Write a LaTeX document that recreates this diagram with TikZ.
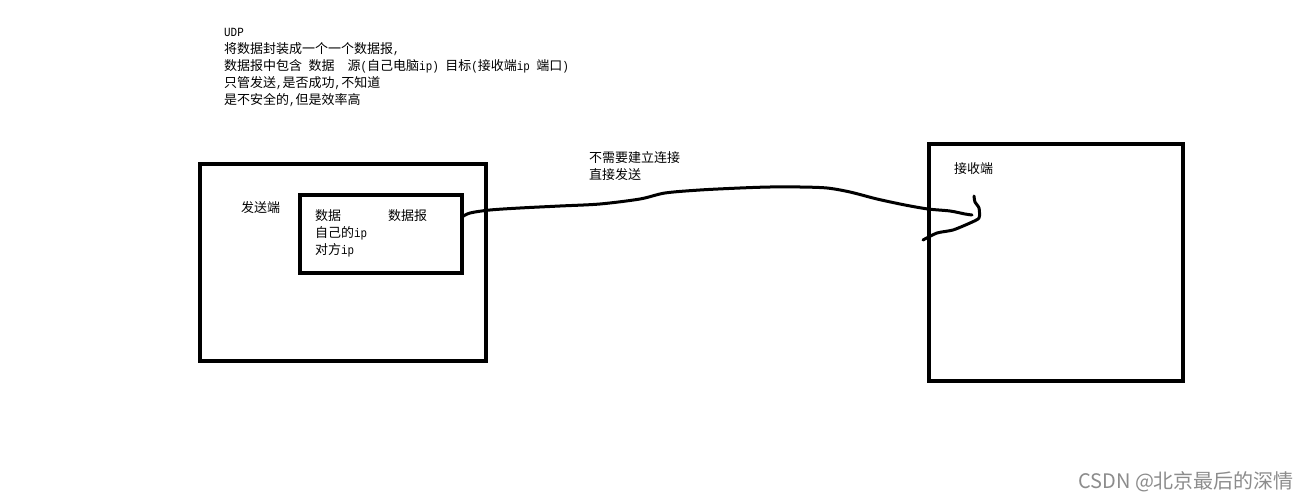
\documentclass[tikz,border=0pt]{standalone}
\usepackage{fontspec}
\usetikzlibrary{calc}
\setmainfont{Noto Sans CJK SC}
\newfontfamily\monofam{Liberation Mono}[FakeStretch=0.87]
\newcommand\am[1]{{\monofam\fontsize{12.5}{13}\selectfont #1}}
\definecolor{wmgray}{RGB}{140,140,140}
\tikzset{
  box/.style={draw=black, line width=4pt, inner sep=0pt, outer sep=0pt},
  txt/.style={anchor=base west, inner sep=0pt, font=\fontsize{13}{16}\selectfont},
  stroke/.style={line width=3pt, line cap=round, line join=round}
}
\begin{document}
\begin{tikzpicture}[x=1pt,y=-1pt]
\useasboundingbox[fill=white] (0,0) rectangle (1304,500);
% boxes
\node[box, minimum width=286pt, minimum height=197pt] (sender) at (343,262.5) {};
\node[box, minimum width=162pt, minimum height=78pt] (inner) at (381,234) {};
\node[box, minimum width=254pt, minimum height=237pt] (recv) at (1056,262.5) {};
% header text
\node[txt] (l1) at (224,37) {\am{UDP}};
\node[txt] (l2) at (224,54) {将数据封装成一个一个数据报\am{,}};
\node[txt] (l3) at (224,71) {数据报中包含\hspace{6.5pt}数据\hspace{13pt}源\am{(}自己电脑\am{ip)}\hspace{6.5pt}目标\am{(}接收端\am{ip}\hspace{6.5pt}端口\am{)}};
\node[txt] (l4) at (224,88) {只管发送\am{,}是否成功\am{,}不知道};
\node[txt] (l5) at (224,105) {是不安全的\am{,}但是效率高};
% sender texts
\node[txt] (sendlbl) at (241,212) {发送端};
\node[txt] (d1) at (315,220) {数据};
\node[txt] (d2) at (388,220) {数据报};
\node[txt] (d3) at (315,237) {自己的\am{ip}};
\node[txt] (d4) at (315,254) {对方\am{ip}};
% middle label
\node[txt] (m1) at (589,162) {不需要建立连接};
\node[txt] (m2) at (589,179) {直接发送};
% receiver label
\node[txt] (recvlbl) at (954,173) {接收端};
% connector
\coordinate (start) at ($(inner.east)+(0,-17)$);
\coordinate (recvend) at (972,215);
\draw[stroke] plot[smooth, tension=0.5] coordinates {(start) (470,213) (490,210) (520,208) (560,206) (600,204) (640,199) (665,193) (700,190) (740,188) (770,187) (800,187) (827,188) (850,192) (877,199) (905,205) (928,209) (950,211) (965,214) (recvend)};
\coordinate (hooktop) at (974,196);
\coordinate (hookend) at (923,240);
\draw[stroke] plot[smooth, tension=0.4] coordinates {(hooktop) (975,202) (979,208) (979,218) (970,223) (953,230) (937,233) (hookend)};
% watermark
\node[anchor=base west, inner sep=0pt, text=wmgray, font=\fontsize{20}{22}\selectfont] (wm) at (1078,488) {CSDN @北京最后的深情};
\end{tikzpicture}
\end{document}
